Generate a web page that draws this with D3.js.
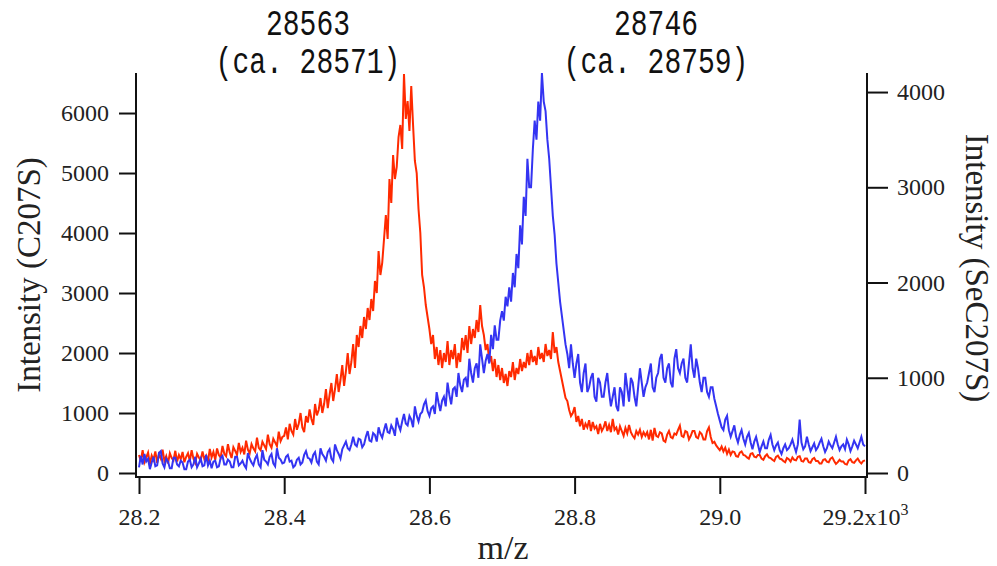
<!DOCTYPE html>
<html>
<head>
<meta charset="utf-8">
<script src="https://cdn.jsdelivr.net/npm/d3@7"></script>
<style>
  body { margin: 0; background: #fff; }
  svg { display: block; }
</style>
</head>
<body>
<svg width="997" height="566"></svg>
<script>
// m/z range of the spectra (sampled every 2.5 Da)
let mzMin = 28200, mzMax = 29200;

// C207S intensity (left axis), 100 Da per row
let redVals = [
  300,200,380,180,260,340,150,290,220,360,170,310,240,390,200,280,160,330,250,210,
  370,190,300,230,350,180,270,330,200,380,240,170,320,260,210,360,230,290,190,400,
  260,350,220,410,300,260,450,320,280,480,340,250,430,370,300,500,350,420,310,540,
  390,330,480,410,360,590,420,380,520,460,400,640,480,420,570,510,450,690,530,600,
  620,760,560,820,700,640,900,720,820,1000,760,680,950,840,1060,900,800,1150,960,1050,
  1250,1000,1150,1400,1080,1300,1500,1200,1400,1650,1350,1550,1800,1450,1700,2000,1650,1850,2150,1750,
  2300,2100,2450,2250,2600,2400,2750,2550,2900,2700,3200,3000,3700,3300,3500,3900,4300,3900,4900,4500,
  5300,4900,5100,5600,5800,5400,6650,5900,6200,5700,6450,5800,5200,5000,4400,4000,3300,3100,2800,2600,
  2400,2150,2300,1900,2100,1800,2050,1750,2000,1850,2200,1800,2050,1900,2150,1750,2000,1850,2250,2050,
  2300,2000,2450,2150,2400,2250,2550,2350,2800,2450,2300,2050,2150,1850,1950,1700,1900,1600,1800,1550,
  1750,1500,1650,1450,1700,1600,1850,1550,1750,1650,1900,1700,1850,1750,2000,1800,2050,1850,1950,1800,
  2100,1900,2000,1850,2150,1950,2050,1900,2350,2000,2100,1850,1700,1550,1400,1250,1200,1050,950,1000,
  1100,850,950,780,900,720,820,760,880,700,850,740,780,650,820,700,760,860,700,800,
  680,900,720,760,640,780,700,620,750,660,800,680,620,580,700,640,720,600,680,620,
  680,560,720,540,750,620,600,680,660,540,520,640,700,600,580,660,640,720,790,620,
  600,700,680,560,620,700,700,600,580,680,650,560,560,700,760,600,500,520,460,420,
  380,440,360,420,320,390,300,360,350,280,270,340,360,300,290,260,240,320,330,270,
  260,300,300,240,220,280,310,260,250,220,200,270,290,240,230,200,180,250,230,190,
  260,220,210,270,280,200,190,240,240,180,170,230,250,200,200,160,160,220,230,190,
  180,240,260,200,150,180,220,190,190,150,140,210,230,180,170,210,240,190,160,200,
  210];

// SeC207S intensity (right axis), 100 Da per row
let blueVals = [
  60,180,90,200,120,150,40,110,170,70,80,210,230,100,60,150,120,50,50,160,
  160,90,70,130,110,40,40,120,140,60,90,170,60,100,150,70,80,190,80,130,
  50,120,130,60,70,160,180,90,90,140,120,60,60,170,170,80,100,130,80,50,
  210,150,110,80,150,190,90,60,240,140,120,90,170,200,100,70,260,160,140,100,
  110,170,190,120,130,60,80,140,160,90,110,190,230,160,150,110,190,220,120,90,
  260,200,170,130,220,250,150,120,300,240,200,150,250,290,330,260,240,300,380,300,
  280,360,350,270,300,380,440,340,330,420,400,330,480,410,370,450,520,430,420,500,
  460,390,580,500,450,540,620,520,500,600,560,480,700,600,540,620,640,720,760,650,
  600,680,700,620,850,740,650,760,800,700,950,820,720,880,900,800,1050,920,850,980,
  1000,900,1200,1050,950,1100,1150,1000,1350,1200,1050,1180,1250,1150,1450,1300,1550,1400,1400,1600,
  1700,1600,1850,1750,1950,1800,2100,1950,2300,2150,2600,2400,2900,2700,3300,3000,3000,3400,3700,3500,
  3900,3700,4200,3900,3800,3500,3300,3000,2700,2500,2200,2000,1800,1650,1500,1350,1250,1100,1350,1150,
  1000,1150,1250,950,850,1050,1150,850,900,1000,1050,800,750,1000,950,800,800,950,1050,850,
  700,800,900,700,650,900,850,700,1050,900,750,1000,950,800,700,900,1100,950,800,900,
  950,1050,1150,900,850,1000,1050,1200,1250,1000,950,1100,1150,950,900,1200,1300,1100,1050,1150,
  1200,1000,950,1150,1350,1100,1000,1200,1100,950,850,1000,1000,850,800,900,900,780,700,620,
  550,480,450,560,600,450,380,440,500,380,320,400,450,360,300,380,420,320,250,330,
  380,300,220,280,330,260,260,350,400,300,240,290,320,240,200,260,300,240,260,300,
  350,280,220,300,560,320,250,280,380,300,230,270,310,240,270,320,360,280,220,260,
  330,290,260,320,380,300,240,280,300,250,350,300,230,280,340,300,260,320,380,300,
  280];

let xTicks = [28200, 28400, 28600, 28800, 29000, 29200];
let leftTicks = [0, 1000, 2000, 3000, 4000, 5000, 6000];
let rightTicks = [0, 1000, 2000, 3000, 4000];
let peakTop = ['28563', '28746'];
let peakBottom = ['(ca. 28571)', '(ca. 28759)'];

let svg = d3.select('svg');
let serif = "'Liberation Serif', 'Times New Roman', serif";
let mono = "'Liberation Mono', 'DejaVu Sans Mono', monospace";

let xScale = d3.scaleLinear().domain([mzMin, mzMax]).range([139, 865]);
let yLeft = d3.scaleLinear().domain([0, 6667]).range([473, 73]);
let yRight = d3.scaleLinear().domain([0, 4200]).range([473, 73]);

let mzAt = (i, n) => mzMin + i * (mzMax - mzMin) / (n - 1);

// traces
let redLine = d3.line().x((d, i) => xScale(mzAt(i, redVals.length))).y(d => yLeft(d));
let blueLine = d3.line().x((d, i) => xScale(mzAt(i, blueVals.length))).y(d => yRight(d));

svg.append('path').attr('d', redLine(redVals))
  .attr('fill', 'none').attr('stroke', '#ff2a00').attr('stroke-width', 2);
svg.append('path').attr('d', blueLine(blueVals))
  .attr('fill', 'none').attr('stroke', '#3434f2').attr('stroke-width', 2);

// axes
let xAxis = d3.axisBottom(xScale).tickValues(xTicks).tickSize(17).tickPadding(14)
  .tickFormat(d => (d / 1000).toFixed(1));
let xG = svg.append('g').attr('transform', 'translate(0,477)').call(xAxis);
xG.select('.domain').remove();
xG.selectAll('text').filter(d => d === 29200)
  .text('29.2x10').append('tspan').attr('dy', -10).attr('font-size', 16).text('3');

let lAxis = d3.axisLeft(yLeft).tickValues(leftTicks).tickSize(17).tickPadding(10)
  .tickFormat(d3.format('d'));
let lG = svg.append('g').attr('transform', 'translate(136,0)').call(lAxis);
lG.select('.domain').remove();

let rAxis = d3.axisRight(yRight).tickValues(rightTicks).tickSize(21).tickPadding(9)
  .tickFormat(d3.format('d'));
let rG = svg.append('g').attr('transform', 'translate(867,0)').call(rAxis);
rG.select('.domain').remove();

[xG, lG, rG].forEach(g => {
  g.selectAll('line').attr('stroke', '#111').attr('stroke-width', 2);
  g.selectAll('text').attr('font-family', serif).attr('font-size', 24).attr('fill', '#222');
});

// frame lines
svg.append('line').attr('x1', 136).attr('x2', 136).attr('y1', 73).attr('y2', 478)
  .attr('stroke', '#111').attr('stroke-width', 2);
svg.append('line').attr('x1', 867).attr('x2', 867).attr('y1', 73).attr('y2', 478)
  .attr('stroke', '#111').attr('stroke-width', 2);
svg.append('line').attr('x1', 135).attr('x2', 868).attr('y1', 477).attr('y2', 477)
  .attr('stroke', '#111').attr('stroke-width', 2);

// axis titles
svg.append('text').attr('transform', 'translate(503,559)')
  .attr('text-anchor', 'middle').attr('font-family', serif).attr('font-size', 34)
  .attr('fill', '#222').text('m/z');
svg.append('text').attr('transform', 'translate(40,275) rotate(-90)')
  .attr('text-anchor', 'middle').attr('font-family', serif).attr('font-size', 33)
  .attr('fill', '#222').text('Intensity (C207S)');
svg.append('text').attr('transform', 'translate(966,268) rotate(90)')
  .attr('text-anchor', 'middle').attr('font-family', serif).attr('font-size', 33)
  .attr('fill', '#222').text('Intensity (SeC207S)');

// peak labels above the plot
let labelX = [308, 656];
peakTop.forEach((t, i) => {
  svg.append('text').attr('transform', `translate(${labelX[i]},35) scale(1,1.3)`)
    .attr('text-anchor', 'middle').attr('font-family', mono).attr('font-size', 28)
    .attr('fill', '#111').text(t);
  svg.append('text').attr('transform', `translate(${labelX[i]},73) scale(1,1.3)`)
    .attr('text-anchor', 'middle').attr('font-family', mono).attr('font-size', 28)
    .attr('fill', '#111').text(peakBottom[i]);
});
</script>
</body>
</html>
